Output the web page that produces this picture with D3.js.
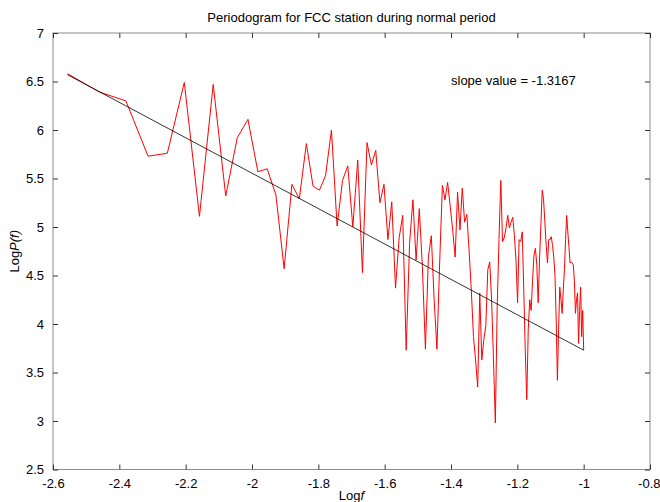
<!DOCTYPE html>
<html><head><meta charset="utf-8">
<script src="https://cdn.jsdelivr.net/npm/d3@7"></script>
<style>body{margin:0;background:#fff}svg{display:block}text{font-family:"Liberation Sans",Arial,sans-serif;fill:#000}</style>
</head><body><svg id="c" width="660" height="502"></svg>
<script>
const logF = [-2.5563,-2.4594,-2.3802,-2.3133,-2.2553,-2.2041,-2.1584,-2.1170,-2.0792,-2.0444,-2.0122,-1.9823,-1.9542,-1.9279,-1.9031,-1.8796,-1.8573,-1.8361,-1.8159,-1.7966,-1.7782,-1.7604,-1.7434,-1.7270,-1.7112,-1.6960,-1.6812,-1.6670,-1.6532,-1.6399,-1.6269,-1.6143,-1.6021,-1.5902,-1.5786,-1.5673,-1.5563,-1.5456,-1.5351,-1.5249,-1.5149,-1.5052,-1.4956,-1.4863,-1.4771,-1.4682,-1.4594,-1.4508,-1.4424,-1.4341,-1.4260,-1.4180,-1.4102,-1.4025,-1.3949,-1.3875,-1.3802,-1.3730,-1.3660,-1.3590,-1.3522,-1.3455,-1.3388,-1.3323,-1.3259,-1.3195,-1.3133,-1.3071,-1.3010,-1.2950,-1.2891,-1.2833,-1.2776,-1.2719,-1.2663,-1.2607,-1.2553,-1.2499,-1.2446,-1.2393,-1.2341,-1.2289,-1.2239,-1.2188,-1.2139,-1.2090,-1.2041,-1.1993,-1.1946,-1.1899,-1.1852,-1.1806,-1.1761,-1.1716,-1.1671,-1.1627,-1.1584,-1.1540,-1.1498,-1.1455,-1.1413,-1.1372,-1.1331,-1.1290,-1.1249,-1.1209,-1.1170,-1.1130,-1.1091,-1.1053,-1.1015,-1.0977,-1.0939,-1.0902,-1.0865,-1.0828,-1.0792,-1.0756,-1.0720,-1.0685,-1.0649,-1.0615,-1.0580,-1.0546,-1.0512,-1.0478,-1.0444,-1.0411,-1.0378,-1.0345,-1.0313,-1.0280,-1.0248,-1.0216,-1.0185,-1.0154,-1.0122,-1.0091,-1.0061,-1.0030,-1.0000];
const logP = [6.58,6.39,6.30,5.73,5.76,6.49,5.11,6.47,5.32,5.92,6.11,5.57,5.60,5.33,4.57,5.44,5.29,5.86,5.42,5.38,5.53,6.00,5.01,5.48,5.63,5.00,5.69,4.53,5.87,5.64,5.79,5.25,5.44,4.87,5.26,4.37,4.89,5.12,3.73,4.83,5.28,4.66,5.19,4.59,3.74,4.69,4.91,4.25,3.74,4.64,5.43,5.28,5.46,5.22,4.97,4.69,5.36,4.97,5.40,5.05,5.13,4.76,4.35,3.87,3.63,3.35,4.32,3.63,3.84,3.98,4.56,4.64,4.25,3.63,2.98,4.18,4.87,5.48,4.85,4.89,4.99,5.12,4.99,5.05,5.10,4.92,4.66,4.22,4.87,4.85,4.95,4.35,3.73,3.22,3.94,4.25,4.14,4.45,4.71,4.78,4.61,4.22,4.66,5.02,5.38,5.28,5.05,4.81,4.63,4.87,4.87,4.90,4.81,4.69,4.50,4.04,3.42,3.94,4.38,4.25,4.11,4.35,4.56,4.87,5.12,4.95,4.79,4.63,4.64,4.63,4.61,4.45,4.11,4.25,4.32,3.80,4.14,4.38,3.87,4.14,3.73];
const fitX = [-2.5563, -1.0];
const fitY = [6.57, 3.73];
const xTicks = [-2.6,-2.4,-2.2,-2,-1.8,-1.6,-1.4,-1.2,-1,-0.8];
const yTicks = [2.5,3,3.5,4,4.5,5,5.5,6,6.5,7];
const titleText = "Periodogram for FCC station during normal period";
const slopeText = "slope value = -1.3167";
const slopePos = [-1.40, 6.46];

const L=53,R=650,T=33,B=469.5;
const svg=d3.select("#c");
const x=d3.scaleLinear().domain([-2.6,-0.8]).range([L,R]);
const y=d3.scaleLinear().domain([2.5,7]).range([B,T]);
const fmt=d=>String(+d.toFixed(1));

// box
svg.append("rect").attr("x",L).attr("y",T).attr("width",R-L).attr("height",B-T)
  .attr("fill","none").attr("stroke","#8c8c8c").attr("stroke-width",1);

// axes with inward ticks
const gx=svg.append("g").attr("transform",`translate(0,${B})`)
  .call(d3.axisBottom(x).tickValues(xTicks).tickFormat(fmt).tickSizeInner(-5).tickSizeOuter(0).tickPadding(9));
const gxt=svg.append("g").attr("transform",`translate(0,${T})`)
  .call(d3.axisTop(x).tickValues(xTicks).tickFormat("").tickSizeInner(-5).tickSizeOuter(0));
const gy=svg.append("g").attr("transform",`translate(${L},0)`)
  .call(d3.axisLeft(y).tickValues(yTicks).tickFormat(fmt).tickSizeInner(-5).tickSizeOuter(0).tickPadding(9));
const gyr=svg.append("g").attr("transform",`translate(${R},0)`)
  .call(d3.axisRight(y).tickValues(yTicks).tickFormat("").tickSizeInner(-5).tickSizeOuter(0));
[gx,gxt,gy,gyr].forEach(g=>{
  g.select(".domain").remove();
  g.selectAll(".tick line").attr("stroke","#333");
  g.selectAll("text").attr("font-size",13).attr("font-family","Liberation Sans, Arial, sans-serif").attr("fill","#000");
});
// keep the last x label inside the window
gx.selectAll(".tick text").filter(d=>d===xTicks[xTicks.length-1]).attr("text-anchor","end").attr("dx",10);

// data line
const pts=logF.map((v,i)=>[v,logP[i]]);
svg.append("path").datum(pts).attr("fill","none").attr("stroke","#ff0000").attr("stroke-width",1)
  .attr("d",d3.line().x(d=>x(d[0])).y(d=>y(d[1])));
// fit line
svg.append("path").datum(fitX.map((v,i)=>[v,fitY[i]])).attr("fill","none").attr("stroke","#000").attr("stroke-width",0.8)
  .attr("d",d3.line().x(d=>x(d[0])).y(d=>y(d[1])));

// texts
svg.append("text").attr("x",(L+R)/2).attr("y",22).attr("text-anchor","middle").attr("font-size",13).text(titleText);
svg.append("text").attr("x",x(slopePos[0])).attr("y",y(slopePos[1])).attr("font-size",13).text(slopeText);
const xl=svg.append("text").attr("x",(L+R)/2).attr("y",500).attr("text-anchor","middle").attr("font-size",13);
xl.append("tspan").text("Log");xl.append("tspan").attr("font-style","italic").text("f");
const yl=svg.append("text").attr("transform",`translate(19,${(T+B)/2}) rotate(-90)`).attr("text-anchor","middle").attr("font-size",13);
yl.append("tspan").text("Log");yl.append("tspan").attr("font-style","italic").text("P(f)");
</script></body></html>
